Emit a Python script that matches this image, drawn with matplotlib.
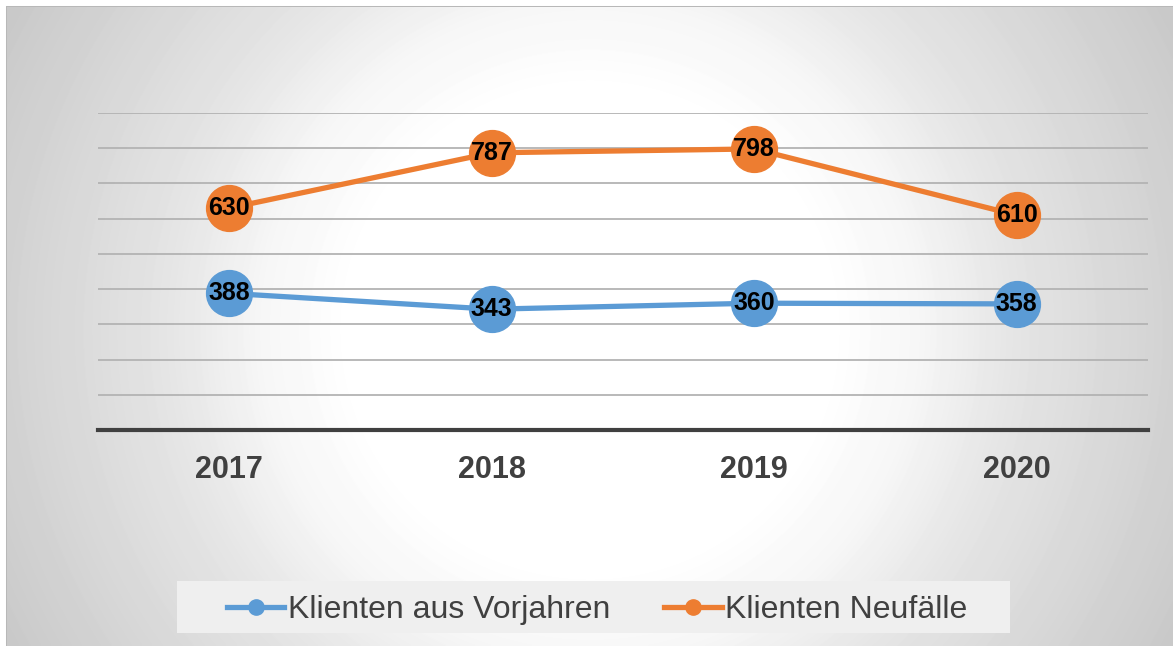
import numpy as np
import matplotlib.pyplot as plt
from matplotlib.patches import Rectangle
from matplotlib.lines import Line2D

years = ['2017', '2018', '2019', '2020']
vorjahre = [388, 343, 360, 358]
neufaelle = [630, 787, 798, 610]
series_names = ['Klienten aus Vorjahren', 'Klienten Neufälle']

BLUE = '#5B9BD5'
ORANGE = '#ED7D31'
TEXT = '#404040'

plt.rcParams['font.family'] = ['Liberation Sans', 'DejaVu Sans']

W, H = 1173, 646
fig = plt.figure(figsize=(W / 100, H / 100), dpi=100)

# radial gray gradient behind the whole chart
yy, xx = np.mgrid[0:H, 0:W]
r = np.hypot(xx - 590, yy - 330)
shade = np.interp(r, [0, 240, 330, 420, 590, 680], [1.0, 1.0, 0.965, 0.9, 0.82, 0.78])
shade[:6, :] = 1.0
shade[:, :6] = 1.0
shade[6, 6:] = 0.72
shade[6:, 6] = 0.72
bg = fig.add_axes([0, 0, 1, 1], zorder=0)
bg.imshow(shade, cmap='gray', vmin=0, vmax=1, aspect='auto', interpolation='bilinear')
bg.axis('off')

# plot area
ax = fig.add_axes([98 / W, 1 - 430 / H, 1050 / W, 317 / H], zorder=1)
ax.patch.set_alpha(0)
x = np.arange(len(years))
ax.set_xlim(-0.5, len(years) - 0.5)
ax.set_ylim(0, 900)
ax.set_yticks(range(100, 1000, 100))
ax.yaxis.grid(True, color='#b3b3b3', lw=1.3)
ax.set_axisbelow(True)
ax.tick_params(axis='y', left=False, labelleft=False)
for s in ['top', 'right', 'left']:
    ax.spines[s].set_visible(False)
ax.spines['bottom'].set_color(TEXT)
ax.spines['bottom'].set_linewidth(3)
ax.set_xticks(x, years)
ax.tick_params(axis='x', length=0, pad=18, labelsize=22, labelcolor=TEXT)
for lbl in ax.get_xticklabels():
    lbl.set_fontweight('bold')

handles = []
for vals, col, name in [(vorjahre, BLUE, series_names[0]), (neufaelle, ORANGE, series_names[1])]:
    ax.plot(x, vals, color=col, lw=3.8, marker='o', ms=33, clip_on=False)
    for xi, v in zip(x, vals):
        ax.text(xi, v, str(v), ha='center', va='center', fontsize=18,
                fontweight='bold', color='black')
    handles.append(Line2D([], [], color=col, lw=3.8, marker='o', ms=11, label=name))

# legend box at the bottom
fig.add_artist(Rectangle((177 / W, 1 - 633 / H), 833 / W, 52 / H, transform=fig.transFigure,
                         facecolor='#efefef', edgecolor='none', zorder=2))
fig.legend(handles=handles, loc='center', bbox_to_anchor=(597 / W, 1 - 610 / H), ncol=2,
           frameon=False, fontsize=23, handlelength=1.8, handletextpad=0.1,
           columnspacing=1.7, labelcolor=TEXT)

fig.savefig('out.png', dpi=100)
